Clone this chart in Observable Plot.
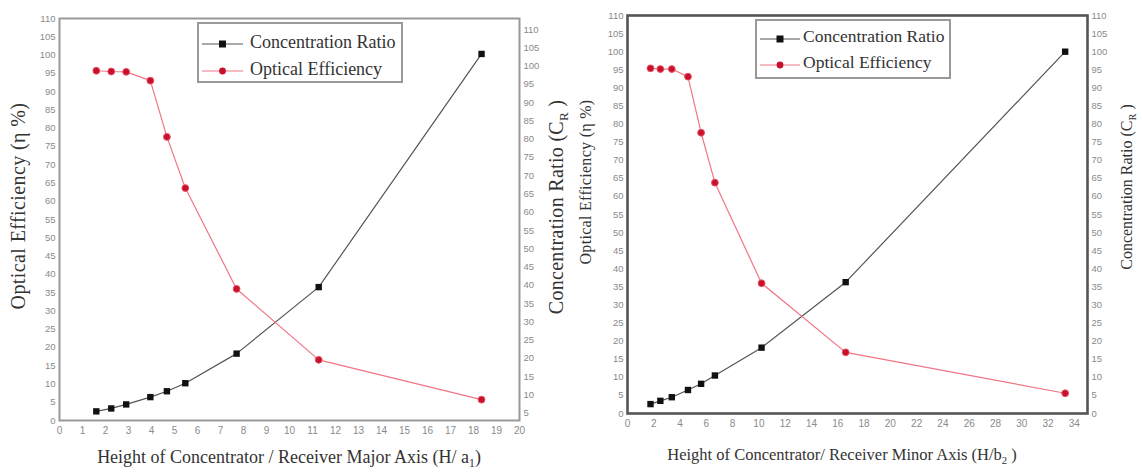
<!DOCTYPE html>
<html>
<head>
<meta charset="utf-8">
<script src="https://cdn.jsdelivr.net/npm/d3@7"></script>
<script src="https://cdn.jsdelivr.net/npm/@observablehq/plot@0.6"></script>
<style>
  html, body { margin: 0; padding: 0; background: #fff; }
  #wrap { position: relative; width: 1142px; height: 473px; overflow: hidden; color: #333; }
  .panel { position: absolute; top: 0; }
  .title { position: absolute; white-space: nowrap; color: #333; line-height: 1; }
  .rot { transform: translate(-50%, -50%) rotate(-90deg); }
  .hor { transform: translate(-50%, -50%); }
  sub { font-size: 0.65em; vertical-align: -0.35em; line-height: 0; }
  .legend { position: absolute; border: 2px solid #999; background: #fff; color: #333; box-sizing: border-box; }
  .legend .sym { position: absolute; }
  .legend .txt { position: absolute; white-space: nowrap; line-height: 1; transform: translateY(-50%); }
</style>
</head>
<body>
<div id="wrap"></div>
<script>
const SERIF = "'Liberation Serif', 'Times New Roman', Times, serif";

// ---- Data ----
// Left panel: height of concentrator / receiver major axis (H/a1)
const xLeft  = [1.6, 2.25, 2.9, 3.95, 4.67, 5.47, 7.7, 11.27, 18.35];
const crLeft = [2.5, 3.3, 4.4, 6.4, 8.0, 10.2, 18.3, 36.5, 100.3];
const oeLeft = [95.7, 95.5, 95.4, 93.0, 77.6, 63.6, 36.0, 16.6, 5.7];

// Right panel: height of concentrator / receiver minor axis (H/b2)
const xRight  = [1.75, 2.5, 3.37, 4.6, 5.6, 6.65, 10.2, 16.6, 33.3];
const crRight = [2.6, 3.5, 4.5, 6.5, 8.2, 10.5, 18.2, 36.3, 100.0];
const oeRight = [95.4, 95.2, 95.2, 93.1, 77.6, 63.8, 36.0, 16.9, 5.6];

// Tick labels
const yTicks = d3.range(0, 115, 5);
const rightTicksLeftPanel = d3.range(5, 115, 5);
const xTicksLeft = d3.range(0, 21, 1);
const xTicksRight = d3.range(0, 35, 2);

const seriesNames = ["Concentration Ratio", "Optical Efficiency"];
const titles = {
  leftX: 'Height of Concentrator / Receiver Major Axis (H/ a<sub>1</sub>)',
  rightX: 'Height of Concentrator/ Receiver Minor Axis (H/b<sub>2</sub> )',
  oe: 'Optical Efficiency (η %)',
  cr: 'Concentration Ratio (C<sub>R</sub> )'
};

const rows = (xs, cr, oe) => xs.map((x, i) => ({x, cr: cr[i], oe: oe[i]}));

function panel({data, xDomain, xTicks, margins, frameColor, frameWidth, rightTicks, rightShift}) {
  return Plot.plot({
    width: 571,
    height: 473,
    ...margins,
    x: {domain: xDomain},
    y: {domain: [0, 110]},
    style: {fontFamily: "Liberation Sans, Arial, sans-serif", fontSize: "10px", background: "transparent", overflow: "visible"},
    marks: [
      Plot.axisX({ticks: xTicks, tickSize: 0, tickPadding: 6, label: null, color: "#8a8a8a", fontSize: 10}),
      Plot.axisY({anchor: "left", ticks: yTicks, tickSize: 0, tickPadding: 4, label: null, color: "#8a8a8a", fontSize: 9.5}),
      Plot.axisY({anchor: "right", ticks: rightTicks.map(v => v - rightShift), tickFormat: d => String(Math.round(d + rightShift)), tickSize: 0, tickPadding: 4, label: null, color: "#8a8a8a", fontSize: 9.5}),
      Plot.line(data, {x: "x", y: "cr", stroke: "#555", strokeWidth: 1.2}),
      Plot.line(data, {x: "x", y: "oe", stroke: "#f07585", strokeWidth: 1.2}),
      Plot.dot(data, {x: "x", y: "cr", symbol: "square", fill: "#111", r: 3.6}),
      Plot.dot(data, {x: "x", y: "oe", symbol: "circle", fill: "#c8102e", stroke: "#e8505f", strokeWidth: 1, r: 3.4}),
      Plot.frame({stroke: frameColor, strokeWidth: frameWidth})
    ]
  });
}

const wrap = document.getElementById("wrap");

const left = panel({
  data: rows(xLeft, crLeft, oeLeft),
  xDomain: [0, 20], xTicks: xTicksLeft,
  margins: {marginLeft: 59, marginRight: 52, marginTop: 18, marginBottom: 53},
  frameColor: "#999", frameWidth: 2,
  rightTicks: rightTicksLeftPanel, rightShift: 3
});
left.classList.add("panel");
left.style.left = "0px";
wrap.appendChild(left);

const right = panel({
  data: rows(xRight, crRight, oeRight),
  xDomain: [0, 35], xTicks: xTicksRight,
  margins: {marginLeft: 56, marginRight: 55, marginTop: 15, marginBottom: 60},
  frameColor: "#555", frameWidth: 2.6,
  rightTicks: yTicks, rightShift: 0
});
right.classList.add("panel");
right.style.left = "571px";
wrap.appendChild(right);

function addTitle(html, cx, cy, rot, size, spacing) {
  const d = document.createElement("div");
  d.className = "title " + (rot ? "rot" : "hor");
  d.style.fontFamily = SERIF;
  d.style.left = cx + "px";
  d.style.top = cy + "px";
  d.style.fontSize = size + "px";
  if (spacing) d.style.letterSpacing = spacing + "px";
  d.innerHTML = html;
  wrap.appendChild(d);
}
addTitle(titles.oe, 18, 206, true, 20, 0.4);
addTitle(titles.cr, 556, 207, true, 20, 0.3);
addTitle(titles.oe, 586, 182, true, 16, 0.3);
addTitle(titles.cr, 1127, 187, true, 16, 0);
addTitle(titles.leftX, 289, 457, false, 18, 0);
addTitle(titles.rightX, 842, 455, false, 16.5, 0);

function addLegend(box, lineX0, lineX1, textX, rowYs, size) {
  const lg = document.createElement("div");
  lg.className = "legend";
  lg.style.fontFamily = SERIF;
  lg.style.left = box.x + "px";
  lg.style.top = box.y + "px";
  lg.style.width = box.w + "px";
  lg.style.height = box.h + "px";
  const mid = (lineX0 + lineX1) / 2 - lineX0;
  const len = lineX1 - lineX0;
  const sym = [
    `<svg width="${len}" height="12"><line x1="0" y1="6" x2="${len}" y2="6" stroke="#555" stroke-width="1.2"/><rect x="${mid - 3.5}" y="2.5" width="7" height="7" fill="#111"/></svg>`,
    `<svg width="${len}" height="12"><line x1="0" y1="6" x2="${len}" y2="6" stroke="#f07585" stroke-width="1.2"/><circle cx="${mid}" cy="6" r="3.4" fill="#c8102e"/></svg>`
  ];
  seriesNames.forEach((n, i) => {
    const s = document.createElement("div");
    s.className = "sym";
    s.style.left = (lineX0 - box.x - 2) + "px";
    s.style.top = (rowYs[i] - box.y - 2 - 6) + "px";
    s.innerHTML = sym[i];
    lg.appendChild(s);
    const t = document.createElement("div");
    t.className = "txt";
    t.style.left = (textX - box.x - 2) + "px";
    t.style.top = (rowYs[i] - box.y - 2) + "px";
    t.style.fontSize = size + "px";
    t.textContent = n;
    lg.appendChild(t);
  });
  wrap.appendChild(lg);
}
addLegend({x: 197, y: 22, w: 206, h: 61}, 202, 243, 250, [42, 69], 18);
addLegend({x: 755, y: 19, w: 196, h: 60}, 760, 800, 803, [37, 63], 17.5);
</script>
</body>
</html>
